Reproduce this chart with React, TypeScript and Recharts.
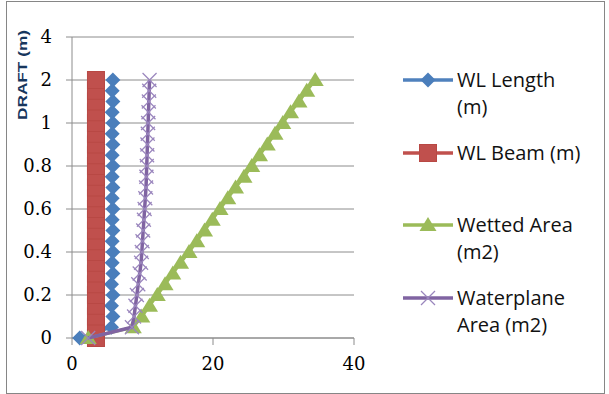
import { CartesianGrid, Legend, Scatter, ScatterChart, XAxis, YAxis } from 'recharts';

// vertical positions on the (unevenly labelled) draft axis
const draftPos = [
  0, 0.25, 0.5, 0.75, 1, 1.25, 1.5, 1.75, 2, 2.25, 2.5, 2.75, 3, 3.25, 3.5, 3.75, 4, 4.25, 4.5,
  4.75, 5, 5.25, 5.5, 5.75, 6,
];
const draftTicks = [0, 1, 2, 3, 4, 5, 6, 7];
const draftTickLabels = ['0', '0.2', '0.4', '0.6', '0.8', '1', '2', '4'];
const xTicks = [0, 20, 40];

const wlLength = [
  1.1, 5.6, 5.8, 5.6, 5.8, 5.6, 5.8, 5.7, 5.8, 5.7, 5.8, 5.7, 5.8, 5.7, 5.8, 5.7, 5.8, 5.7, 5.8,
  5.7, 5.8, 5.7, 5.8, 5.7, 5.8,
];
const wlBeam = [
  3.4, 3.4, 3.4, 3.4, 3.4, 3.4, 3.4, 3.4, 3.4, 3.4, 3.4, 3.4, 3.4, 3.4, 3.4, 3.4, 3.4, 3.4, 3.4,
  3.4, 3.4, 3.4, 3.4, 3.4, 3.4,
];
const wettedArea = [
  2.3, 8.7, 9.9, 11.0, 12.1, 13.2, 14.3, 15.4, 16.6, 17.7, 18.8, 19.9, 21.0, 22.1, 23.2, 24.4,
  25.5, 26.6, 27.7, 28.8, 29.9, 31.0, 32.2, 33.3, 34.5,
];
const waterplaneArea = [
  2.3, 8.5, 8.8, 9.0, 9.2, 9.4, 9.6, 9.8, 9.9, 10.0, 10.1, 10.2, 10.3, 10.4, 10.5, 10.55, 10.6,
  10.65, 10.7, 10.75, 10.8, 10.85, 10.9, 10.95, 11.0,
];

const seriesNames = ['WL Length\n(m)', 'WL Beam (m)', 'Wetted Area\n(m2)', 'Waterplane\nArea (m2)'];
const seriesColors = ['#4F81BD', '#C0504D', '#9BBB59', '#8064A2'];
const legendRows = [80, 153, 225, 298];

const toPoints = (values: number[]) => values.map((v, i) => ({ x: v, y: draftPos[i] }));

const Marker = ({ kind, cx, cy }: { kind: number; cx: number; cy: number }) => {
  if (kind === 0)
    return (
      <path
        d={`M${cx},${cy - 7.5}L${cx + 7.5},${cy}L${cx},${cy + 7.5}L${cx - 7.5},${cy}Z`}
        fill="#4A7EBB"
      />
    );
  if (kind === 1)
    return (
      <rect x={cx - 8.5} y={cy - 8.5} width={17} height={17} fill="#C0504D" stroke="#B84844" strokeWidth={1} />
    );
  if (kind === 2)
    return (
      <path d={`M${cx},${cy - 8}L${cx + 8.5},${cy + 6}L${cx - 8.5},${cy + 6}Z`} fill="#9BBB59" />
    );
  return (
    <g stroke="#9A86BD" strokeWidth={1.2}>
      <line x1={cx - 7} y1={cy - 7} x2={cx + 7} y2={cy + 7} />
      <line x1={cx - 7} y1={cy + 7} x2={cx + 7} y2={cy - 7} />
    </g>
  );
};

const shapeFor = (kind: number) => (props: any) => <Marker kind={kind} cx={props.cx} cy={props.cy} />;

const DraftLabel = () => (
  <text
    x={22}
    y={75}
    transform="rotate(-90 22 75)"
    textAnchor="middle"
    dominantBaseline="central"
    fontFamily="Liberation Sans, Arial, sans-serif"
    fontWeight="bold"
    fontSize={13}
    fill="#17365D"
    textLength={90}
    lengthAdjust="spacingAndGlyphs"
  >
    DRAFT (m)
  </text>
);

const ChartLegend = () => (
  <div style={{ position: 'relative', width: 609, height: 394 }}>
    {seriesNames.map((name, i) => (
      <div key={name}>
        <svg
          width={50}
          height={20}
          style={{ position: 'absolute', left: 403, top: legendRows[i] - 10 }}
        >
          <line x1={0} y1={10} x2={50} y2={10} stroke={seriesColors[i]} strokeWidth={3.5} />
          <Marker kind={i} cx={25} cy={10} />
        </svg>
        <div
          style={{
            position: 'absolute',
            left: 457,
            top: legendRows[i] - 14,
            lineHeight: '27px',
            fontSize: 20,
            fontFamily: 'Open Sans, sans-serif',
            color: '#111',
            whiteSpace: 'pre',
          }}
        >
          {name}
        </div>
      </div>
    ))}
  </div>
);

const tickStyle = { fontFamily: 'DejaVu Serif, serif', fontSize: 18, fill: '#000' };

export default function App() {
  return (
    <div style={{ position: 'absolute', left: 0, top: 0, width: 609, height: 394, background: '#fff' }}>
      <div
        style={{
          position: 'absolute',
          left: 6,
          top: 1,
          width: 597,
          height: 391,
          border: '1px solid #868686',
        }}
      />
      <ScatterChart
        width={609}
        height={394}
        margin={{ top: 37, right: 255, bottom: 20, left: 0 }}
      >
        <CartesianGrid vertical={false} stroke="#8C8C8C" />
        <XAxis
          type="number"
          dataKey="x"
          domain={[0, 40]}
          ticks={xTicks}
          height={36}
          tickSize={7}
          tickMargin={12}
          stroke="#8C8C8C"
          tick={tickStyle}
        />
        <YAxis
          type="number"
          dataKey="y"
          domain={[0, 7]}
          ticks={draftTicks}
          width={72}
          tickSize={6}
          tickMargin={14}
          stroke="#8C8C8C"
          tick={tickStyle}
          tickFormatter={(v: number) => draftTickLabels[v]}
          label={{ content: DraftLabel }}
        />
        <Legend
          layout="horizontal"
          verticalAlign="middle"
          align="center"
          content={ChartLegend}
          wrapperStyle={{ left: 0, top: 0, width: 609, height: 394, pointerEvents: 'none' }}
        />
        <Scatter
          name={seriesNames[0]}
          data={toPoints(wlLength)}
          fill={seriesColors[0]}
          line={{ stroke: seriesColors[0], strokeWidth: 3 }}
          shape={shapeFor(0)}
          isAnimationActive={false}
        />
        <Scatter
          name={seriesNames[1]}
          data={toPoints(wlBeam)}
          fill={seriesColors[1]}
          line={{ stroke: seriesColors[1], strokeWidth: 3 }}
          shape={shapeFor(1)}
          isAnimationActive={false}
        />
        <Scatter
          name={seriesNames[2]}
          data={toPoints(wettedArea)}
          fill={seriesColors[2]}
          line={{ stroke: seriesColors[2], strokeWidth: 3 }}
          shape={shapeFor(2)}
          isAnimationActive={false}
        />
        <Scatter
          name={seriesNames[3]}
          data={toPoints(waterplaneArea)}
          fill={seriesColors[3]}
          line={{ stroke: seriesColors[3], strokeWidth: 3.5 }}
          shape={shapeFor(3)}
          isAnimationActive={false}
        />
      </ScatterChart>
    </div>
  );
}
